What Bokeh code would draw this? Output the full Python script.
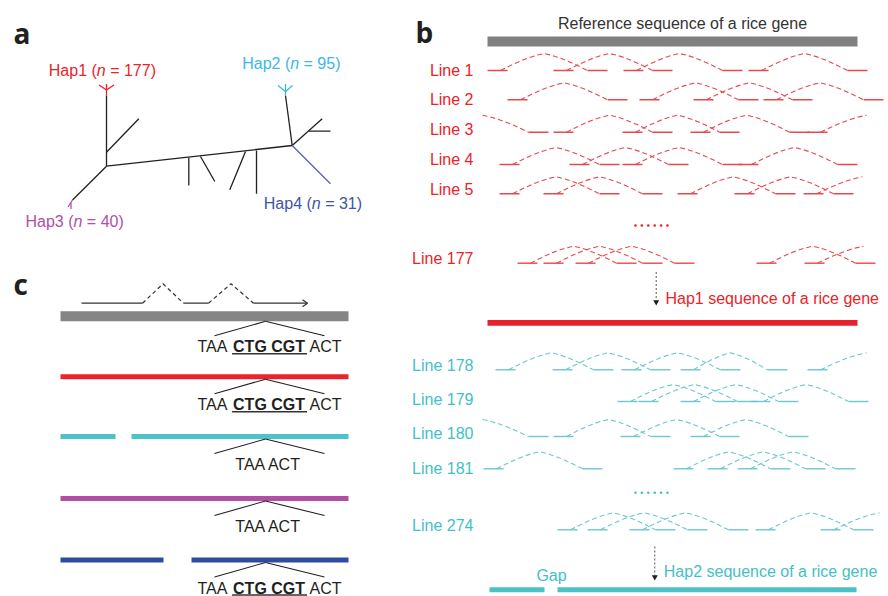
import math
from bokeh.plotting import figure
from bokeh.models import Range1d
from bokeh.core.properties import value
from bokeh.embed import file_html
from bokeh.resources import INLINE

# ------------------------------------------------------------------ data
# panel a: haplotypes
hap_names = ["Hap1", "Hap2", "Hap3", "Hap4"]
hap_n = [177, 95, 40, 31]

# panel b: read pairs per line, in gene coordinates (0 = gene start, 370 = gene end)
# None = mate lies outside the drawn window
GENE_LEN = 370
hap1_lines = ["Line 1", "Line 2", "Line 3", "Line 4", "Line 5", "Line 177"]
hap1_pairs = [
    [(0, 100), (66, 165), (136, 235), (261, 360)],
    [(20, 120), (152, 251), (206, 305), (276, 376)],
    [(None, 41), (66, 165), (135, 232), (203, 302), (320, None)],
    [(12, 112), (82, 181), (135, 235), (251, 350)],
    [(12, 112), (56, 155), (190, 288), (247, 346), (316, None)],
    [(30, 129), (56, 155), (88, 187), (269, 368), (317, None)],
]
hap2_lines = ["Line 178", "Line 179", "Line 180", "Line 181", "Line 274"]
hap2_pairs = [
    [(8, 106), (65, 163), (134, 233), (193, 280), (320, None)],
    [(130, 228), (151, 250), (193, 291), (263, 361)],
    [(None, 41), (66, 163), (133, 232), (203, 301)],
    [(-4, 95), (186, 283), (220, 318), (250, 348)],
    [(70, 168), (100, 200), (142, 241), (268, 366), (333, None)],
]
hap2_gap = (58, 70)          # gap in the Hap2 assembled sequence (gene coords)

# panel c: assembled sequences (coords 0..288 along the gene)
C_LEN = 288
c_rows = ["Reference", "Hap1", "Hap2", "Hap3", "Hap4"]
c_segments = [
    [(0, 288)],
    [(0, 288)],
    [(0, 55), (71, 288)],
    [(0, 288)],
    [(0, 103), (131, 288)],
]
c_has_insert = [True, True, False, False, True]
c_site = 205                  # position of the CTG CGT insertion
exons = [(21, 82), (123, 148), (193, 247)]   # transcript model

# ------------------------------------------------------------------ styles
RED = "#ec2229"
RED_READ = "#e8494e"
TEAL = "#44bfc4"
TEAL_READ = "#6cc8cd"
SKY = "#3db8e6"
MAG = "#b24ea3"
BLUE = "#3f55a6"
BLUE_LINE = "#5862b2"
DBLUE = "#2f4b9d"
GREY = "#808080"
INK = "#231f20"
FONT = value("Liberation Sans")
NB = "\u00a0"

W, H = 888, 596
p = figure(width=W, height=H, x_range=Range1d(0, W), y_range=Range1d(H, 0),
           output_backend="svg", toolbar_location=None, min_border=0,
           x_axis_location=None, y_axis_location=None)
p.grid.visible = False
p.outline_line_color = None
p.background_fill_color = "white"
p.border_fill_color = "white"

# Arial/Liberation advance widths (1/1000 em)
REG = {' ': 278, NB: 278, '(': 333, ')': 333, '=': 584, 'H': 722, 'a': 556, 'p': 556, 'n': 556,
       'T': 611, 'A': 667, 'C': 722, 'G': 778}
for d in "0123456789":
    REG[d] = 556
BOLD = {' ': 278, NB: 278, 'C': 722, 'T': 611, 'G': 778, 'A': 722}


def width(s, size, bold=False):
    t = BOLD if bold else REG
    return sum(t.get(c, 556) for c in s) * size / 1000.0


def rich(x, y, parts, size, color):
    """parts: list of (text, style); left aligned at x, vertically centred on y"""
    out = []
    for txt, style in parts:
        p.text(x=[x], y=[y], text=[txt], text_font=FONT, text_font_size=f"{size}px",
               text_font_style=value(style), text_color=color, text_align="left",
               text_baseline="middle")
        w = width(txt, size, style == "bold")
        out.append((x, x + w))
        x += w
    return out


def label(x, y, txt, size, color, align="left", style="normal", baseline="middle"):
    p.text(x=[x], y=[y], text=[txt], text_font=FONT, text_font_size=f"{size}px",
           text_font_style=value(style), text_color=color, text_align=align,
           text_baseline=baseline)


# panel letters
for lx, ly, lt in [(13, 32, "a"), (415, 31.5, "b"), (13, 283.5, "c")]:
    p.text(x=[lx], y=[ly], text=[lt], text_font=value("Open Sans"), text_font_size="28px",
           text_font_style=value("bold"), text_color=INK, text_baseline="alphabetic")

# ------------------------------------------------------------------ panel a (tree)
L = (106, 165.7)
R = (291.7, 145)
tree_black = [
    (L, R),
    (L, (106, 95)),
    ((106, 151.7), (138.3, 118.3)),
    (L, (72, 199.5)),
    ((188.3, 157.3), (188.3, 185)),
    ((200, 156), (214.3, 181)),
    ((245, 151), (229.3, 189.3)),
    ((256, 150), (256, 193.3)),
    (R, (285, 95)),
    (R, (321.7, 118.3)),
    ((308.3, 130.7), (330, 130.7)),
]
p.segment(x0=[a[0] for a, b in tree_black], y0=[a[1] for a, b in tree_black],
          x1=[b[0] for a, b in tree_black], y1=[b[1] for a, b in tree_black],
          line_color=INK, line_width=1.3)
tips = [
    (RED, [((106, 95), (106, 83.5)), ((106, 89.5), (98.5, 84.5)), ((106, 89.5), (113.5, 84.5))]),
    (SKY, [((285, 95), (285, 83.5)), ((285, 91), (277.5, 85)), ((285, 91), (292, 85))]),
    (MAG, [((72, 199.5), (67.5, 206.5)), ((70.5, 202), (70.5, 208.5))]),
    (BLUE_LINE, [(R, (330, 183.3))]),
]
for col, segs in tips:
    p.segment(x0=[a[0] for a, b in segs], y0=[a[1] for a, b in segs],
              x1=[b[0] for a, b in segs], y1=[b[1] for a, b in segs],
              line_color=col, line_width=1.3)

hap_label_pos = [(48.3, 70, RED), (241.7, 63.3, SKY), (25, 220.7, MAG), (263.3, 202.7, BLUE)]
for name, n, (x, y, col) in zip(hap_names, hap_n, hap_label_pos):
    rich(x, y, [(f"{name}{NB}(", "normal"), ("n", "italic"), (f"{NB}={NB}{n})", "normal")], 16, col)

# ------------------------------------------------------------------ panel b
B0, B1 = 487, 857
bx = lambda g: B0 + g * (B1 - B0) / GENE_LEN
READ_LEN, TICK, RISE, HALF = 20, 13, 17, 46


def arc(a, b, yr, t0=0.0, t1=1.0, n=12):
    xs, ys = [], []
    for i in range(n + 1):
        t = t0 + (t1 - t0) * i / n
        h = 0.5 * math.sin(math.pi * t) + 0.5 * (1 - abs(2 * t - 1))
        xs.append(a + (b - a) * t)
        ys.append(yr - RISE * h)
    return xs, ys


label(682, 22.7, "Reference sequence of a rice gene", 16, "#333333", align="center")
p.quad(left=[bx(0)], right=[bx(GENE_LEN)], top=[36], bottom=[46], fill_color=GREY, line_color=None)


def draw_reads(pairs_rows, label_names, label_ys, read_ys, col_txt, col_read):
    sx0, sx1, sy = [], [], []
    dxs, dys = [], []
    for pairs, yl, yr, nm in zip(pairs_rows, label_ys, read_ys, label_names):
        label(473, yl, nm, 16, col_txt, align="right")
        for l, r in pairs:
            for m in (l, r):
                if m is not None:
                    sx0.append(bx(m)); sx1.append(bx(m) + READ_LEN); sy.append(yr)
            if l is not None and r is not None:
                xs, ys = arc(bx(l) + TICK, bx(r), yr)
            elif l is None:
                xs, ys = arc(bx(r) - 2 * HALF, bx(r), yr, 0.5, 1.0, 6)
            else:
                a = bx(l) + TICK
                xs, ys = arc(a, a + 2 * HALF, yr, 0.0, 0.5, 6)
            dxs.append(xs); dys.append(ys)
    p.multi_line(xs=dxs, ys=dys, line_color=col_read, line_width=1.1, line_dash="5 3")
    p.segment(x0=sx0, y0=sy, x1=sx1, y1=sy, line_color=col_read, line_width=1.4)


draw_reads(hap1_pairs, hap1_lines, [69.5, 99, 128.5, 158.5, 189, 258],
           [70, 99.3, 131.7, 164, 193.3, 262.7], RED, RED_READ)
p.scatter(x=[635 + 6.4 * i for i in range(6)], y=[225] * 6, size=2.6, color=RED, line_color=None)
# arrow to Hap1 sequence
p.segment(x0=[655.7], y0=[271.5], x1=[655.7], y1=[300], line_color="#555555", line_dash="2 2", line_width=1)
p.scatter(x=[655.7], y=[301.5], marker="inverted_triangle", size=6, color=INK, line_color=None)
label(665, 297.7, "Hap1 sequence of a rice gene", 16, RED)
p.quad(left=[bx(0)], right=[bx(GENE_LEN)], top=[319.5], bottom=[325.2], fill_color="#e8202a", line_color=None)

draw_reads(hap2_pairs, hap2_lines, [365, 399.3, 433.3, 467.7, 525],
           [369.3, 401, 436, 468.3, 529.3], TEAL, TEAL_READ)
p.scatter(x=[635 + 6.4 * i for i in range(6)], y=[492.3] * 6, size=2.6, color=TEAL, line_color=None)
p.segment(x0=[654.3], y0=[546], x1=[654.3], y1=[575], line_color="#555555", line_dash="2 2", line_width=1)
p.scatter(x=[654.3], y=[576.5], marker="inverted_triangle", size=6, color=INK, line_color=None)
label(663.3, 570.5, "Hap2 sequence of a rice gene", 16, TEAL)
label(551, 574.5, "Gap", 16, TEAL, align="center")
p.quad(left=[bx(0) + 2, bx(hap2_gap[1])], right=[bx(hap2_gap[0]) - 1, bx(GENE_LEN) - 1],
       top=[586.7, 586.7], bottom=[591.7, 591.7], fill_color="#4cc2c6", line_color=None)

# ------------------------------------------------------------------ panel c
C0 = 60
cx = lambda g: C0 + g
# transcript model
base, peak = 302.7, 283.3
p.multi_line(xs=[[cx(a), cx(b)] for a, b in exons], ys=[[base, base]] * len(exons),
             line_color="#333333", line_width=1.2)
intr_x, intr_y = [], []
for (a0, a1), (b0, b1) in zip(exons[:-1], exons[1:]):
    intr_x.append([cx(a1), cx((a1 + b0) / 2), cx(b0)])
    intr_y.append([base, peak, base])
p.multi_line(xs=intr_x, ys=intr_y, line_color="#333333", line_width=1.2, line_dash="4 3")
end = cx(exons[-1][1])
p.segment(x0=[end, end], y0=[base, base], x1=[end - 5, end - 5], y1=[base - 3.5, base + 3.5],
          line_color="#333333", line_width=1.2)

c_colors = ["#858585", "#e8252b", "#4cc3c7", MAG, DBLUE]
c_heights = [10, 5, 5, 5, 5]
c_ys = [315.8, 376.2, 436, 498, 559.5]
for segs, col, hgt, yc, ins in zip(c_segments, c_colors, c_heights, c_ys, c_has_insert):
    p.quad(left=[cx(a) for a, b in segs], right=[cx(b) for a, b in segs],
           top=[yc - hgt / 2] * len(segs), bottom=[yc + hgt / 2] * len(segs),
           fill_color=col, line_color=None)
    apex_y = yc + hgt / 2
    tip_y = apex_y + 14.5
    sx = cx(c_site)
    p.segment(x0=[sx, sx], y0=[apex_y, apex_y], x1=[sx - 51, sx + 59], y1=[tip_y, tip_y],
              line_color=INK, line_width=1.1)
    ty = tip_y + 11
    if ins:
        total = width("TAA ", 16) + width("CTG CGT", 16, True) + width(NB + "ACT", 16)
        spans = rich(sx + 4 - total / 2, ty,
                     [("TAA" + NB, "normal"), ("CTG" + NB + "CGT", "bold"), (NB + "ACT", "normal")], 16, INK)
        u0, u1 = spans[1]
        p.segment(x0=[u0 - 1], y0=[ty + 7], x1=[u1 + 2], y1=[ty + 7], line_color="#333333", line_width=1.4)
    else:
        label(sx + 3, ty, "TAA ACT", 16, INK, align="center")

open("out.html", "w").write(file_html(p, INLINE))
